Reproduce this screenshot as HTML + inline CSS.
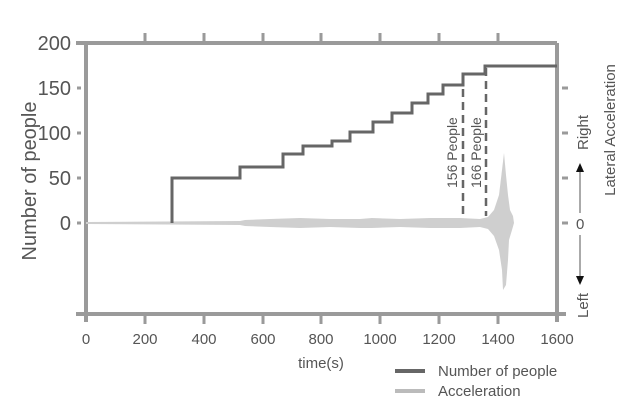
<!DOCTYPE html><html><head><style>body{margin:0;background:#fff}</style></head><body>
<svg width="640" height="411" xmlns="http://www.w3.org/2000/svg" font-family="Liberation Sans, sans-serif">
<rect width="640" height="411" fill="#fff"/>
<g stroke="#9a9a9a" stroke-width="4" fill="none">
<line x1="86" y1="43" x2="86" y2="322"/>
<line x1="76" y1="43" x2="557" y2="43"/>
<line x1="76" y1="314" x2="566" y2="314"/>
<line x1="557" y1="43" x2="557" y2="322"/>
<g stroke-width="3">
<line x1="145" y1="33" x2="145" y2="43"/><line x1="204" y1="33" x2="204" y2="43"/><line x1="263" y1="33" x2="263" y2="43"/><line x1="321" y1="33" x2="321" y2="43"/><line x1="380" y1="33" x2="380" y2="43"/><line x1="439" y1="33" x2="439" y2="43"/><line x1="498" y1="33" x2="498" y2="43"/>
<line x1="145" y1="314" x2="145" y2="324"/><line x1="204" y1="314" x2="204" y2="324"/><line x1="263" y1="314" x2="263" y2="324"/><line x1="321" y1="314" x2="321" y2="324"/><line x1="380" y1="314" x2="380" y2="324"/><line x1="439" y1="314" x2="439" y2="324"/><line x1="498" y1="314" x2="498" y2="324"/>
<line x1="77" y1="88" x2="81" y2="88"/><line x1="77" y1="133" x2="81" y2="133"/><line x1="77" y1="178" x2="81" y2="178"/><line x1="77" y1="223" x2="81" y2="223"/>
<line x1="562" y1="88" x2="568" y2="88"/><line x1="562" y1="133" x2="568" y2="133"/><line x1="562" y1="178" x2="568" y2="178"/><line x1="562" y1="223" x2="568" y2="223"/>
</g></g>
<g fill="#555" font-size="20" text-anchor="end">
<text x="71" y="50">200</text><text x="71" y="95">150</text><text x="71" y="140">100</text><text x="71" y="185">50</text><text x="71" y="230">0</text>
</g>
<text transform="translate(36,181) rotate(-90)" fill="#555" font-size="20" text-anchor="middle">Number of people</text>
<g fill="#555" font-size="15" text-anchor="middle">
<text x="86" y="344">0</text><text x="145" y="344">200</text><text x="204" y="344">400</text><text x="263" y="344">600</text><text x="321" y="344">800</text><text x="380" y="344">1000</text><text x="439" y="344">1200</text><text x="498" y="344">1400</text><text x="557" y="344">1600</text>
<text x="321" y="368">time(s)</text>
</g>
<path fill="#cfcfcf" d="M86,222 L240,221 L245,220 L270,219 L300,218 L330,219 L360,219 L372,218 L400,219 L430,218 L460,218 L480,219 L488,217 L494,210 L499,195 L502,170 L504,153 L506,175 L508,195 L510,210 L513,216 L514,223 L512,230 L509,240 L508,260 L506,285 L503,290 L502,270 L499,250 L494,236 L488,229 L480,227 L460,228 L430,228 L400,227 L372,228 L360,228 L330,227 L300,228 L270,227 L245,226 L240,225 L86,224 Z"/>
<path fill="none" stroke="#666" stroke-width="3" d="M172,223 V178 H240 V167 H283 V154 H303 V146 H332 V141 H350 V132 H373 V122 H392 V113 H412 V103 H428 V94 H443 V85 H463 V74 H485 V66 H557"/>
<g stroke="#666" stroke-width="2.5" stroke-dasharray="8,5">
<line x1="463" y1="76" x2="463" y2="216"/><line x1="486" y1="68" x2="486" y2="216"/>
</g>
<g fill="#555" font-size="14">
<text transform="translate(457,188) rotate(-90)">156 People</text>
<text transform="translate(481,188) rotate(-90)">166 People</text>
<text transform="translate(588,150) rotate(-90)" font-size="15">Right</text>
<text transform="translate(588,318) rotate(-90)" font-size="15">Left</text>
<text x="576" y="229" font-size="15">0</text>
<text transform="translate(615,130) rotate(-90)" text-anchor="middle" font-size="15">Lateral Acceleration</text>
</g>
<line x1="580" y1="213" x2="580" y2="170" stroke="#555" stroke-width="1"/>
<polygon points="580,163 576,172 584,172" fill="#111"/>
<line x1="580" y1="235" x2="580" y2="277" stroke="#555" stroke-width="1"/>
<polygon points="580,285 576,276 584,276" fill="#111"/>
<line x1="395" y1="371" x2="425" y2="371" stroke="#666" stroke-width="4"/>
<line x1="395" y1="391" x2="425" y2="391" stroke="#bbb" stroke-width="4"/>
<g fill="#555" font-size="15"><text x="438" y="376">Number of people</text><text x="438" y="396">Acceleration</text></g>
</svg></body></html>
